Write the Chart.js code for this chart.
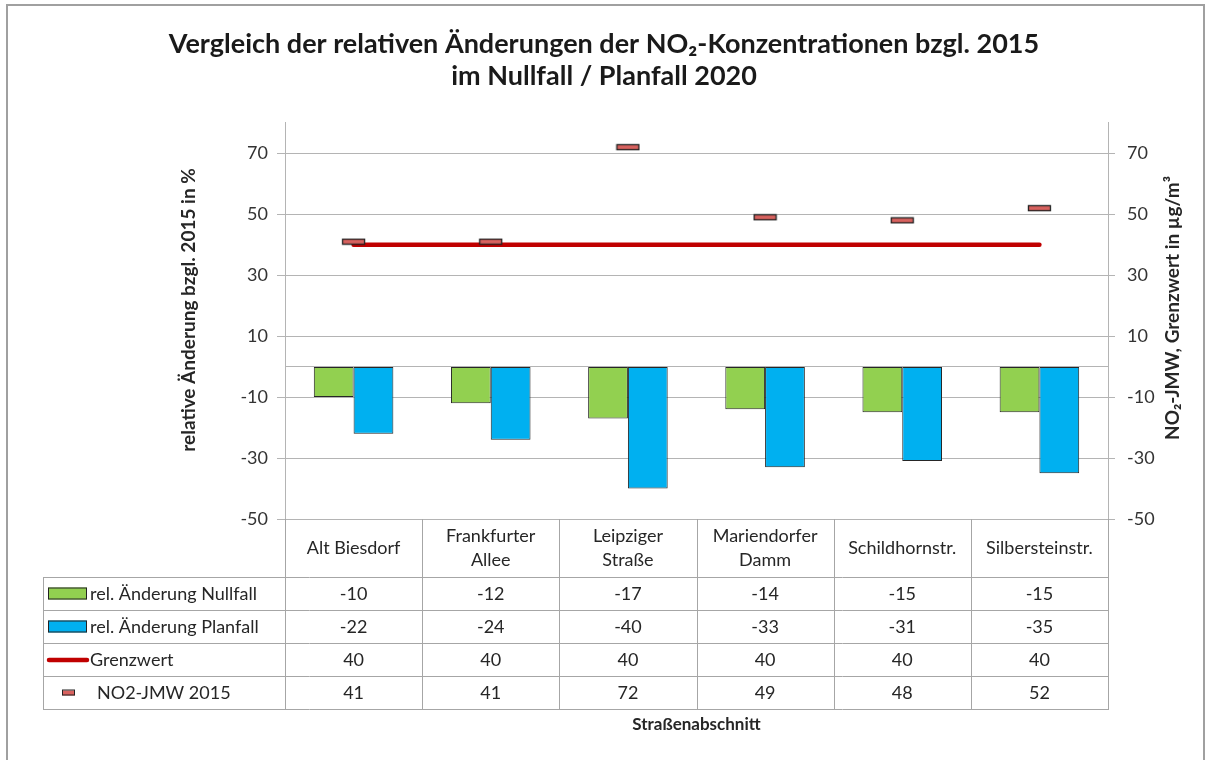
<!DOCTYPE html>
<html>
<head>
<meta charset="utf-8">
<script src="https://cdn.jsdelivr.net/npm/chart.js@4.4.1/dist/chart.umd.min.js"></script>
<style>
  html, body { margin: 0; padding: 0; background: #fff; }
  #wrap { width: 1208px; height: 760px; position: relative; }
</style>
</head>
<body>
<div id="wrap"><canvas id="chart"></canvas></div>
<script>
// data
var categories = [['Alt Biesdorf'], ['Frankfurter', 'Allee'], ['Leipziger', 'Straße'], ['Mariendorfer', 'Damm'], ['Schildhornstr.'], ['Silbersteinstr.']];
var nullfall = [-10, -12, -17, -14, -15, -15];
var planfall = [-22, -24, -40, -33, -31, -35];
var grenzwert = [40, 40, 40, 40, 40, 40];
var no2jmw = [41, 41, 72, 49, 48, 52];
var yTicks = [-50, -30, -10, 0, 10, 30, 50, 70];
var seriesNames = ['rel. Änderung Nullfall', 'rel. Änderung Planfall', 'Grenzwert', 'NO2-JMW 2015'];

var GREEN = '#92D050', BLUE = '#00B0F0', RED = '#C00000', MARK = '#D9625F';
var GRID = '#B4B4B4', TXT = '#262626';

Chart.defaults.font.family = 'Lato, "Noto Sans", sans-serif';
Chart.defaults.color = TXT;

// small rectangle used as the marker of the NO2 series
var mk = document.createElement('canvas');
mk.width = 25; mk.height = 8;
var mc = mk.getContext('2d');
mc.fillStyle = MARK; mc.fillRect(1, 1, 23, 6);
mc.strokeStyle = '#222'; mc.lineWidth = 1.3; mc.strokeRect(1.5, 1.5, 22, 5);

function setTicks(s) { s.ticks = yTicks.map(function (v) { return { value: v }; }); }

var tablePlugin = {
  id: 'tablePlugin',
  afterDraw: function (chart) {
    var ctx = chart.ctx, x = chart.scales.x, a = chart.chartArea;
    var rows = [577, 610, 643, 676, 709];
    var tLeft = 43;
    var w = (x.right - x.left) / categories.length;
    ctx.save();
    // outer frame
    ctx.strokeStyle = '#A0A0A0'; ctx.lineWidth = 2;
    ctx.beginPath(); ctx.moveTo(7, 760); ctx.lineTo(7, 5); ctx.lineTo(1204, 5); ctx.lineTo(1204, 760); ctx.stroke();

    // table lines
    ctx.strokeStyle = '#A6A6A6'; ctx.lineWidth = 1;
    ctx.beginPath();
    for (var i = 0; i <= categories.length; i++) {
      var bx = Math.round(x.left + i * w) + 0.5;
      ctx.moveTo(bx, a.bottom); ctx.lineTo(bx, rows[rows.length - 1]);
    }
    ctx.moveTo(tLeft + 0.5, rows[0]); ctx.lineTo(tLeft + 0.5, rows[rows.length - 1]);
    rows.forEach(function (ry) { ctx.moveTo(tLeft, ry + 0.5); ctx.lineTo(Math.round(x.right) + 1, ry + 0.5); });
    ctx.stroke();

    // header labels
    ctx.fillStyle = TXT; ctx.font = '18px Lato'; ctx.textAlign = 'center'; ctx.textBaseline = 'middle';
    categories.forEach(function (c, i) {
      var cx = x.getPixelForValue(i);
      var mid = (a.bottom + rows[0]) / 2;
      if (c.length === 1) ctx.fillText(c[0], cx, mid);
      else { ctx.fillText(c[0], cx, mid - 12); ctx.fillText(c[1], cx, mid + 12); }
    });

    // values
    var series = [nullfall, planfall, grenzwert, no2jmw];
    series.forEach(function (s, r) {
      var cy = (rows[r] + rows[r + 1]) / 2 + 1;
      s.forEach(function (v, i) { ctx.fillText(String(v), x.getPixelForValue(i), cy); });
    });

    // legend keys and names
    ctx.textAlign = 'left';
    var cy0 = (rows[0] + rows[1]) / 2, cy1 = (rows[1] + rows[2]) / 2, cy2 = (rows[2] + rows[3]) / 2, cy3 = (rows[3] + rows[4]) / 2;
    ctx.strokeStyle = '#222'; ctx.lineWidth = 1;
    ctx.fillStyle = GREEN; ctx.fillRect(48, cy0 - 6, 39, 12); ctx.strokeRect(48.5, cy0 - 5.5, 38, 11);
    ctx.fillStyle = BLUE; ctx.fillRect(48, cy1 - 6, 39, 12); ctx.strokeRect(48.5, cy1 - 5.5, 38, 11);
    ctx.strokeStyle = RED; ctx.lineWidth = 4.5; ctx.lineCap = 'round';
    ctx.beginPath(); ctx.moveTo(49, cy2 + 0.5); ctx.lineTo(87, cy2 + 0.5); ctx.stroke();
    ctx.fillStyle = MARK; ctx.fillRect(62, cy3 - 2, 13, 5);
    ctx.strokeStyle = '#222'; ctx.lineWidth = 1; ctx.strokeRect(62.5, cy3 - 2.5, 12, 5);
    ctx.fillStyle = TXT;
    ctx.fillText(seriesNames[0], 90, cy0 + 1);
    ctx.fillText(seriesNames[1], 90, cy1 + 1);
    ctx.fillText(seriesNames[2], 90, cy2 + 1);
    ctx.fillText(seriesNames[3], 97, cy3 + 1);

    // axis titles
    ctx.font = 'bold 17px Lato'; ctx.textAlign = 'center';
    ctx.fillText('Straßenabschnitt', (x.left + x.right) / 2, 725);
    ctx.font = 'bold 19px Lato';
    ctx.save(); ctx.translate(189, 310); ctx.rotate(-Math.PI / 2);
    ctx.fillText('relative Änderung bzgl. 2015 in %', 0, 0); ctx.restore();
    ctx.save(); ctx.translate(1173, 308); ctx.rotate(-Math.PI / 2);
    ctx.fillText('NO₂-JMW, Grenzwert in µg/m³', 0, 0); ctx.restore();
    ctx.restore();
  }
};

var ctx = document.getElementById('chart').getContext('2d');
var chart = new Chart(ctx, {
  type: 'bar',
  data: {
    labels: categories,
    datasets: [
      { label: seriesNames[0], data: nullfall, backgroundColor: GREEN, borderColor: '#262626', borderWidth: 1, borderSkipped: false, yAxisID: 'y', order: 3 },
      { label: seriesNames[1], data: planfall, backgroundColor: BLUE, borderColor: '#262626', borderWidth: 1, borderSkipped: false, yAxisID: 'y', order: 3 },
      { type: 'line', label: seriesNames[2], data: grenzwert, borderColor: RED, borderWidth: 4.5, borderCapStyle: 'round', pointRadius: 0, yAxisID: 'y1', order: 2 },
      { type: 'line', label: seriesNames[3], data: no2jmw, showLine: false, pointStyle: mk, pointRadius: 6, yAxisID: 'y1', order: 1 }
    ]
  },
  options: {
    responsive: true,
    maintainAspectRatio: false,
    animation: false,
    datasets: { bar: { barPercentage: 1, categoryPercentage: 0.58 } },
    layout: { padding: { left: 0, right: 0, top: 0, bottom: 241 } },
    plugins: {
      legend: { display: false },
      tooltip: { enabled: false },
      title: {
        display: true,
        text: ['Vergleich der relativen Änderungen der NO₂-Konzentrationen bzgl. 2015', 'im Nullfall / Planfall 2020'],
        font: { size: 27, weight: 'bold', lineHeight: 1.2 },
        color: '#1a1a1a',
        padding: { top: 28, bottom: 30 }
      }
    },
    scales: {
      x: { display: false, offset: true },
      y: {
        position: 'left', min: -50, max: 80,
        afterBuildTicks: setTicks,
        afterFit: function (s) { s.width = 285; },
        border: { display: true, color: GRID },
        grid: {
          color: GRID, tickLength: 8,
          tickColor: function (c) { return c.tick && c.tick.value === 0 ? 'rgba(0,0,0,0)' : GRID; }
        },
        ticks: { font: { size: 18 }, color: '#333', padding: 9, callback: function (v) { return v === 0 ? '' : v; } }
      },
      y1: {
        position: 'right', min: -50, max: 80,
        afterBuildTicks: setTicks,
        afterFit: function (s) { s.width = 100; },
        border: { display: true, color: GRID },
        grid: {
          drawOnChartArea: false, color: GRID, tickLength: 7,
          tickColor: function (c) { return c.tick && c.tick.value === 0 ? 'rgba(0,0,0,0)' : GRID; }
        },
        ticks: { font: { size: 18 }, color: '#333', padding: 12, callback: function (v) { return v === 0 ? '' : v; } }
      }
    }
  },
  plugins: [tablePlugin]
});
</script>
</body>
</html>
